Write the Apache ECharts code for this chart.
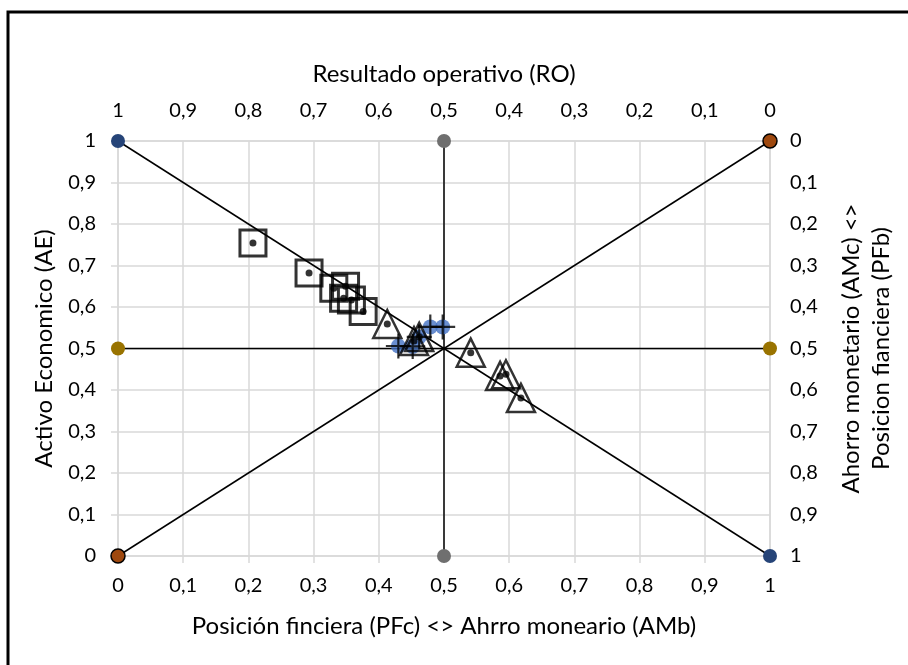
<!DOCTYPE html>
<html>
<head>
<meta charset="utf-8">
<script src="https://cdn.jsdelivr.net/npm/echarts@6/dist/echarts.min.js"></script>
<style>
html,body{margin:0;padding:0;background:#fff;}
#chart{width:908px;height:665px;}
</style>
</head>
<body>
<div id="chart"></div>
<script>
// ---- data ----
const squaresX = [0.207, 0.293, 0.331, 0.349, 0.346, 0.358, 0.376];
const squaresY = [0.754, 0.682, 0.645, 0.650, 0.621, 0.617, 0.589];
const trianglesX = [0.413, 0.462, 0.454, 0.541, 0.586, 0.595, 0.618];
const trianglesY = [0.559, 0.528, 0.518, 0.490, 0.434, 0.438, 0.381];
const blueX = [0.430, 0.452, 0.462, 0.479, 0.498];
const blueY = [0.506, 0.505, 0.528, 0.552, 0.552];
// reference lines (end points)
const diagDown = [[0, 1], [1, 0]];
const diagUp = [[0, 0], [1, 1]];
const vertLine = [[0.5, 1], [0.5, 0]];
const horizLine = [[0, 0.5], [1, 0.5]];

const zip = (xs, ys) => xs.map((x, i) => [x, ys[i]]);
const fmt = v => String(Math.round(v * 10) / 10).replace('.', ',');
const FONT = 'Lato';
const grey = '#d9d9d9';
const LABEL = 20, TITLE = 24;

function refLine(pts, color, border) {
  return {
    type: 'line', xAxisIndex: 0, yAxisIndex: 0,
    data: pts, symbol: 'circle', symbolSize: 14, showSymbol: true,
    lineStyle: { color: '#000', width: 1.5 },
    itemStyle: { color: color, borderColor: border || color, borderWidth: border ? 1.5 : 0 },
    emphasis: { disabled: true }, z: 2
  };
}

const chart = echarts.init(document.getElementById('chart'));
const option = {
  animation: false,
  grid: { left: 118, right: 138, top: 141, bottom: 109 },
  textStyle: { fontFamily: FONT },
  graphic: [{
    type: 'rect', shape: { x: 8, y: 12, width: 920, height: 680 },
    style: { fill: 'none', stroke: '#000', lineWidth: 3 }, silent: true
  }],
  xAxis: [{
    type: 'value', position: 'bottom', min: 0, max: 1, interval: 0.1,
    name: 'Posición finciera (PFc) <> Ahrro moneario (AMb)',
    nameLocation: 'middle', nameGap: 58,
    nameTextStyle: { fontSize: TITLE, color: '#000', fontFamily: FONT },
    axisLine: { show: true, lineStyle: { color: grey, width: 1.5 } },
    axisTick: { show: true, length: 7, lineStyle: { color: grey, width: 1.5 } },
    axisLabel: { formatter: fmt, fontSize: LABEL, color: '#000', margin: 20, fontFamily: FONT },
    splitLine: { show: true, lineStyle: { color: grey, width: 1.5 } }
  }, {
    type: 'value', position: 'top', min: 0, max: 1, interval: 0.1, inverse: true,
    name: 'Resultado operativo (RO)',
    nameLocation: 'middle', nameGap: 55,
    nameTextStyle: { fontSize: TITLE, color: '#000', fontFamily: FONT },
    axisLine: { show: true, lineStyle: { color: grey, width: 1.5 } },
    axisTick: { show: false },
    axisLabel: { formatter: fmt, fontSize: LABEL, color: '#000', margin: 20, fontFamily: FONT },
    splitLine: { show: false }
  }],
  yAxis: [{
    type: 'value', position: 'left', min: 0, max: 1, interval: 0.1,
    name: 'Activo Economico (AE)',
    nameLocation: 'middle', nameGap: 62,
    nameTextStyle: { fontSize: TITLE, color: '#000', fontFamily: FONT },
    axisLine: { show: true, lineStyle: { color: grey, width: 1.5 } },
    axisTick: { show: true, length: 7, lineStyle: { color: grey, width: 1.5 } },
    axisLabel: { formatter: fmt, fontSize: LABEL, color: '#000', margin: 22, fontFamily: FONT },
    splitLine: { show: true, lineStyle: { color: grey, width: 1.5 } }
  }, {
    type: 'value', position: 'right', min: 0, max: 1, interval: 0.1, inverse: true,
    name: 'Ahorro monetario (AMc) <>\nPosicion fianciera (PFb)',
    nameLocation: 'middle', nameGap: 66, nameRotate: 90,
    nameTextStyle: { fontSize: TITLE, color: '#000', fontFamily: FONT, lineHeight: 30 },
    axisLine: { show: true, lineStyle: { color: grey, width: 1.5 } },
    axisTick: { show: false },
    axisLabel: { formatter: fmt, fontSize: LABEL, color: '#000', margin: 20, fontFamily: FONT },
    splitLine: { show: false }
  }],
  series: [
    refLine(diagDown, '#264478'),
    refLine(diagUp, '#9E480E', '#000'),
    refLine(vertLine, '#6f6f6f'),
    refLine(horizLine, '#997300'),
    {
      type: 'scatter', data: zip(blueX, blueY), symbol: 'circle', symbolSize: 15,
      itemStyle: { color: '#4472C4' }, z: 3
    },
    {
      type: 'scatter', data: zip(blueX, blueY),
      symbol: 'path://M10,0 L10,20 M0,10 L20,10', symbolSize: 25,
      itemStyle: { color: 'none', borderColor: '#000', borderWidth: 2.2 }, z: 4
    },
    {
      type: 'scatter', data: zip(squaresX, squaresY).concat(zip(trianglesX, trianglesY)),
      symbol: 'circle', symbolSize: 7, itemStyle: { color: '#000' }, z: 5
    },
    {
      type: 'scatter', data: zip(squaresX, squaresY), symbol: 'rect', symbolSize: 26,
      itemStyle: { color: 'none', borderColor: '#000', borderWidth: 3 }, z: 6
    },
    {
      type: 'scatter', data: zip(trianglesX, trianglesY), symbol: 'triangle', symbolSize: 28,
      itemStyle: { color: 'none', borderColor: '#000', borderWidth: 2.5 }, z: 6
    }
  ]
};
chart.setOption(option);
</script>
</body>
</html>
